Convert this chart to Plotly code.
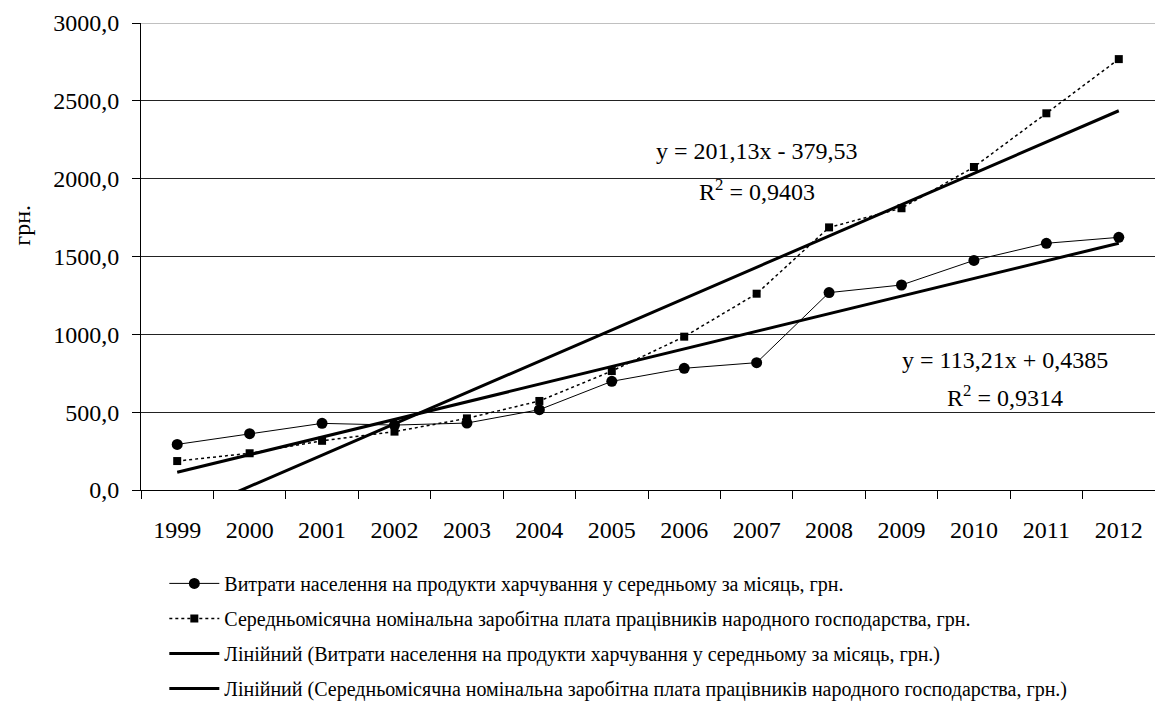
import plotly.graph_objects as go

# Years on the category axis
years = [str(y) for y in range(1999, 2013)]

# Monthly food expenses per person, UAH
food = [293, 362, 428, 417, 430, 516, 698, 782, 818, 1268, 1317, 1475, 1585, 1623]
# Average monthly nominal wage, UAH
wage = [186, 236, 316, 375, 460, 572, 764, 985, 1261, 1687, 1810, 2075, 2420, 2768]

# Linear trend coefficients (x = 1 .. 14)
food_slope, food_icpt, food_r2 = 113.21, 0.4385, 0.9314
wage_slope, wage_icpt, wage_r2 = 201.13, -379.53, 0.9403

food_name = "Витрати населення на продукти харчування у середньому за місяць, грн."
wage_name = "Середньомісячна номінальна заробітна плата працівників народного господарства, грн."

FONT = "Liberation Serif, Times New Roman, serif"


def trend(slope, icpt):
    return [slope * (i + 1) + icpt for i in range(len(years))]


def fmt(v, nd):
    return f"{v:.{nd}f}".replace(".", ",")


fig = go.Figure()

fig.add_trace(go.Scatter(
    x=years, y=food, name=food_name, mode="lines+markers",
    line=dict(color="black", width=1),
    marker=dict(symbol="circle", size=11, color="black"),
    legendgroup="a",
))
fig.add_trace(go.Scatter(
    x=years, y=wage, name=wage_name, mode="lines+markers",
    line=dict(color="black", width=1.5, dash="dot"),
    marker=dict(symbol="square", size=8, color="black"),
    legendgroup="b",
))
fig.add_trace(go.Scatter(
    x=years, y=trend(food_slope, food_icpt), name=f"Лінійний ({food_name})",
    mode="lines", line=dict(color="black", width=3), legendgroup="c",
))
fig.add_trace(go.Scatter(
    x=years, y=trend(wage_slope, wage_icpt), name=f"Лінійний ({wage_name})",
    mode="lines", line=dict(color="black", width=3), legendgroup="d",
))

eq_wage = f"y = {fmt(wage_slope, 2)}x - {fmt(abs(wage_icpt), 2)}"
eq_food = f"y = {fmt(food_slope, 2)}x + {fmt(food_icpt, 4)}"

annotations = [
    dict(text=eq_wage, x=0.6075, y=0.726),
    dict(text=f"R<sup>2</sup> = {fmt(wage_r2, 4)}", x=0.6075, y=0.643),
    dict(text=eq_food, x=0.852, y=0.279),
    dict(text=f"R<sup>2</sup> = {fmt(food_r2, 4)}", x=0.852, y=0.202),
]
for a in annotations:
    a.update(xref="paper", yref="paper", showarrow=False,
             xanchor="center", yanchor="middle",
             font=dict(family=FONT, size=24, color="black"))

# y-axis caption
annotations.append(dict(
    text="грн.", xref="paper", yref="paper", x=-0.1174, y=0.568,
    textangle=-90, showarrow=False, xanchor="center", yanchor="middle",
    font=dict(family=FONT, size=24, color="black"),
))

fig.update_layout(
    width=1155, height=704,
    margin=dict(l=141, r=0, t=23, b=214),
    paper_bgcolor="white", plot_bgcolor="white",
    font=dict(family=FONT, size=24, color="black"),
    separators=", ",
    showlegend=True,
    legend=dict(
        xref="paper", yref="container",
        x=0.023, y=0.199, xanchor="left", yanchor="top",
        font=dict(family=FONT, size=20, color="black"),
        itemwidth=50, tracegroupgap=6, traceorder="grouped",
        bgcolor="rgba(0,0,0,0)",
    ),
    annotations=annotations,
    shapes=[dict(type="line", xref="paper", yref="y", x0=0, x1=1, y0=3000, y1=3000,
                 line=dict(color="#c0c0c0", width=2), layer="above")],
)

fig.update_xaxes(
    type="category", range=[-0.5, len(years) - 0.5],
    tickson="boundaries", ticks="outside", ticklen=8,
    tickcolor="black", showline=True, linecolor="black", linewidth=1,
    showgrid=False, ticklabelstandoff=18, automargin=False,
    tickfont=dict(family=FONT, size=24, color="black"),
)
fig.update_yaxes(
    range=[0, 3000], dtick=500, tickformat=".1f", ticks="outside", ticklen=8,
    tickcolor="black", showline=True, linecolor="black", linewidth=1,
    showgrid=True, gridcolor="#222222", gridwidth=1, zeroline=False,
    ticklabelstandoff=8, automargin=False,
    tickfont=dict(family=FONT, size=24, color="black"),
)

fig.write_html("out.html")
